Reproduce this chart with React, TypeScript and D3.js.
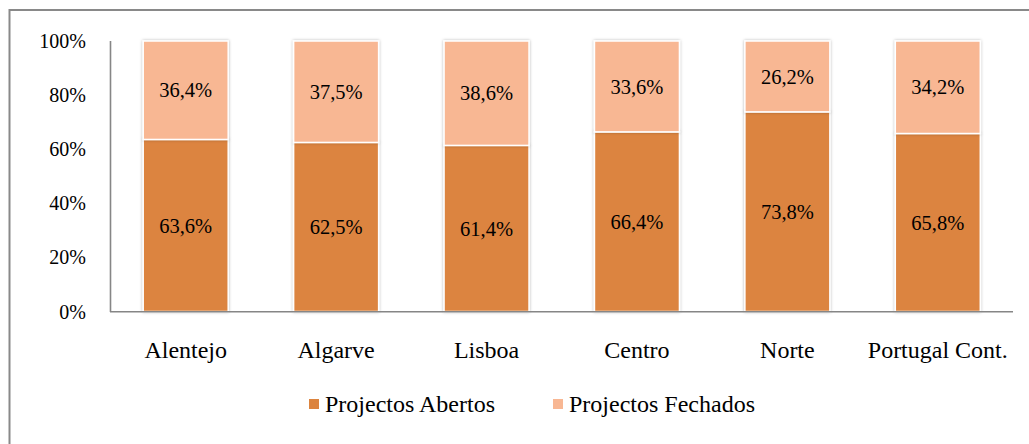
import React from "react";
import * as d3 from "d3";

const regions = ["Alentejo", "Algarve", "Lisboa", "Centro", "Norte", "Portugal Cont."];
const abertos = [63.6, 62.5, 61.4, 66.4, 73.8, 65.8];
const fechados = [36.4, 37.5, 38.6, 33.6, 26.2, 34.2];
const yTicks = [0, 20, 40, 60, 80, 100];
const seriesNames = ["Projectos Abertos", "Projectos Fechados"];
const seriesColors = ["#DC843F", "#F8B793"];

const W = 1029;
const H = 444;
const FONT = "Liberation Serif, DejaVu Serif, serif";

const fmt = (v: number) => v.toFixed(1).replace(".", ",") + "%";

const App: React.FC = () => {
  const x = d3
    .scaleBand<string>()
    .domain(regions)
    .range([110.5, 1013])
    .paddingInner(0.435)
    .paddingOuter(0.2175);

  const y = d3.scaleLinear().domain([0, 100]).range([311.5, 41]);

  const rows = regions.map((r, i) => ({ region: r, abertos: abertos[i], fechados: fechados[i] }));
  const stacked = d3.stack<any>().keys(["abertos", "fechados"])(rows);

  return (
    <svg
      width={W}
      height={H}
      style={{ position: "fixed", left: 0, top: 0, background: "#fff", fontFamily: FONT }}
    >
      <defs>
        <filter id="glow" x="-10%" y="-10%" width="120%" height="120%">
          <feDropShadow dx="0" dy="0" stdDeviation="1.6" floodColor="#000" floodOpacity="0.3" />
        </filter>
      </defs>

      {/* outer frame */}
      <rect x={9.5} y={10} width={1040} height={460} fill="none" stroke="#898989" strokeWidth={2} />

      {/* bars */}
      {stacked.map((layer, li) => (
        <g key={li}>
          {layer.map((d, i) => (
            <rect
              key={i}
              x={x(regions[i])!}
              y={y(d[1])}
              width={x.bandwidth()}
              height={y(d[0]) - y(d[1])}
              fill={seriesColors[li]}
              stroke="#fff"
              strokeWidth={1.5}
              filter="url(#glow)"
            />
          ))}
        </g>
      ))}

      {/* data labels */}
      {stacked.map((layer, li) =>
        layer.map((d, i) => (
          <text
            key={`${li}-${i}`}
            x={x(regions[i])! + x.bandwidth() / 2}
            y={(y(d[0]) + y(d[1])) / 2}
            dy="0.35em"
            textAnchor="middle"
            fontSize={20.5}
            fill="#000"
            style={{ fontFamily: FONT }}
          >
            {fmt(li === 0 ? abertos[i] : fechados[i])}
          </text>
        ))
      )}

      {/* axes */}
      <line x1={110.5} x2={110.5} y1={41} y2={312} stroke="#868686" strokeWidth={1.6} />
      <line x1={110} x2={1013} y1={311.8} y2={311.8} stroke="#868686" strokeWidth={1.6} />

      {yTicks.map((t) => (
        <text key={t} x={86} y={y(t)} dy="0.35em" textAnchor="end" fontSize={20} fill="#000" style={{ fontFamily: FONT }}>
          {t}%
        </text>
      ))}

      {regions.map((r) => (
        <text
          key={r}
          x={x(r)! + x.bandwidth() / 2}
          y={358}
          textAnchor="middle"
          fontSize={24}
          fill="#000"
          style={{ fontFamily: FONT }}
        >
          {r}
        </text>
      ))}

      {/* legend */}
      {seriesNames.map((n, i) => {
        const lx = i === 0 ? 309 : 553;
        return (
          <g key={n}>
            <rect x={lx} y={399} width={10} height={10} fill={seriesColors[i]} />
            <text x={lx + 16} y={411.5} fontSize={24} fill="#000" style={{ fontFamily: FONT }}>
              {n}
            </text>
          </g>
        );
      })}
    </svg>
  );
};

export default App;
